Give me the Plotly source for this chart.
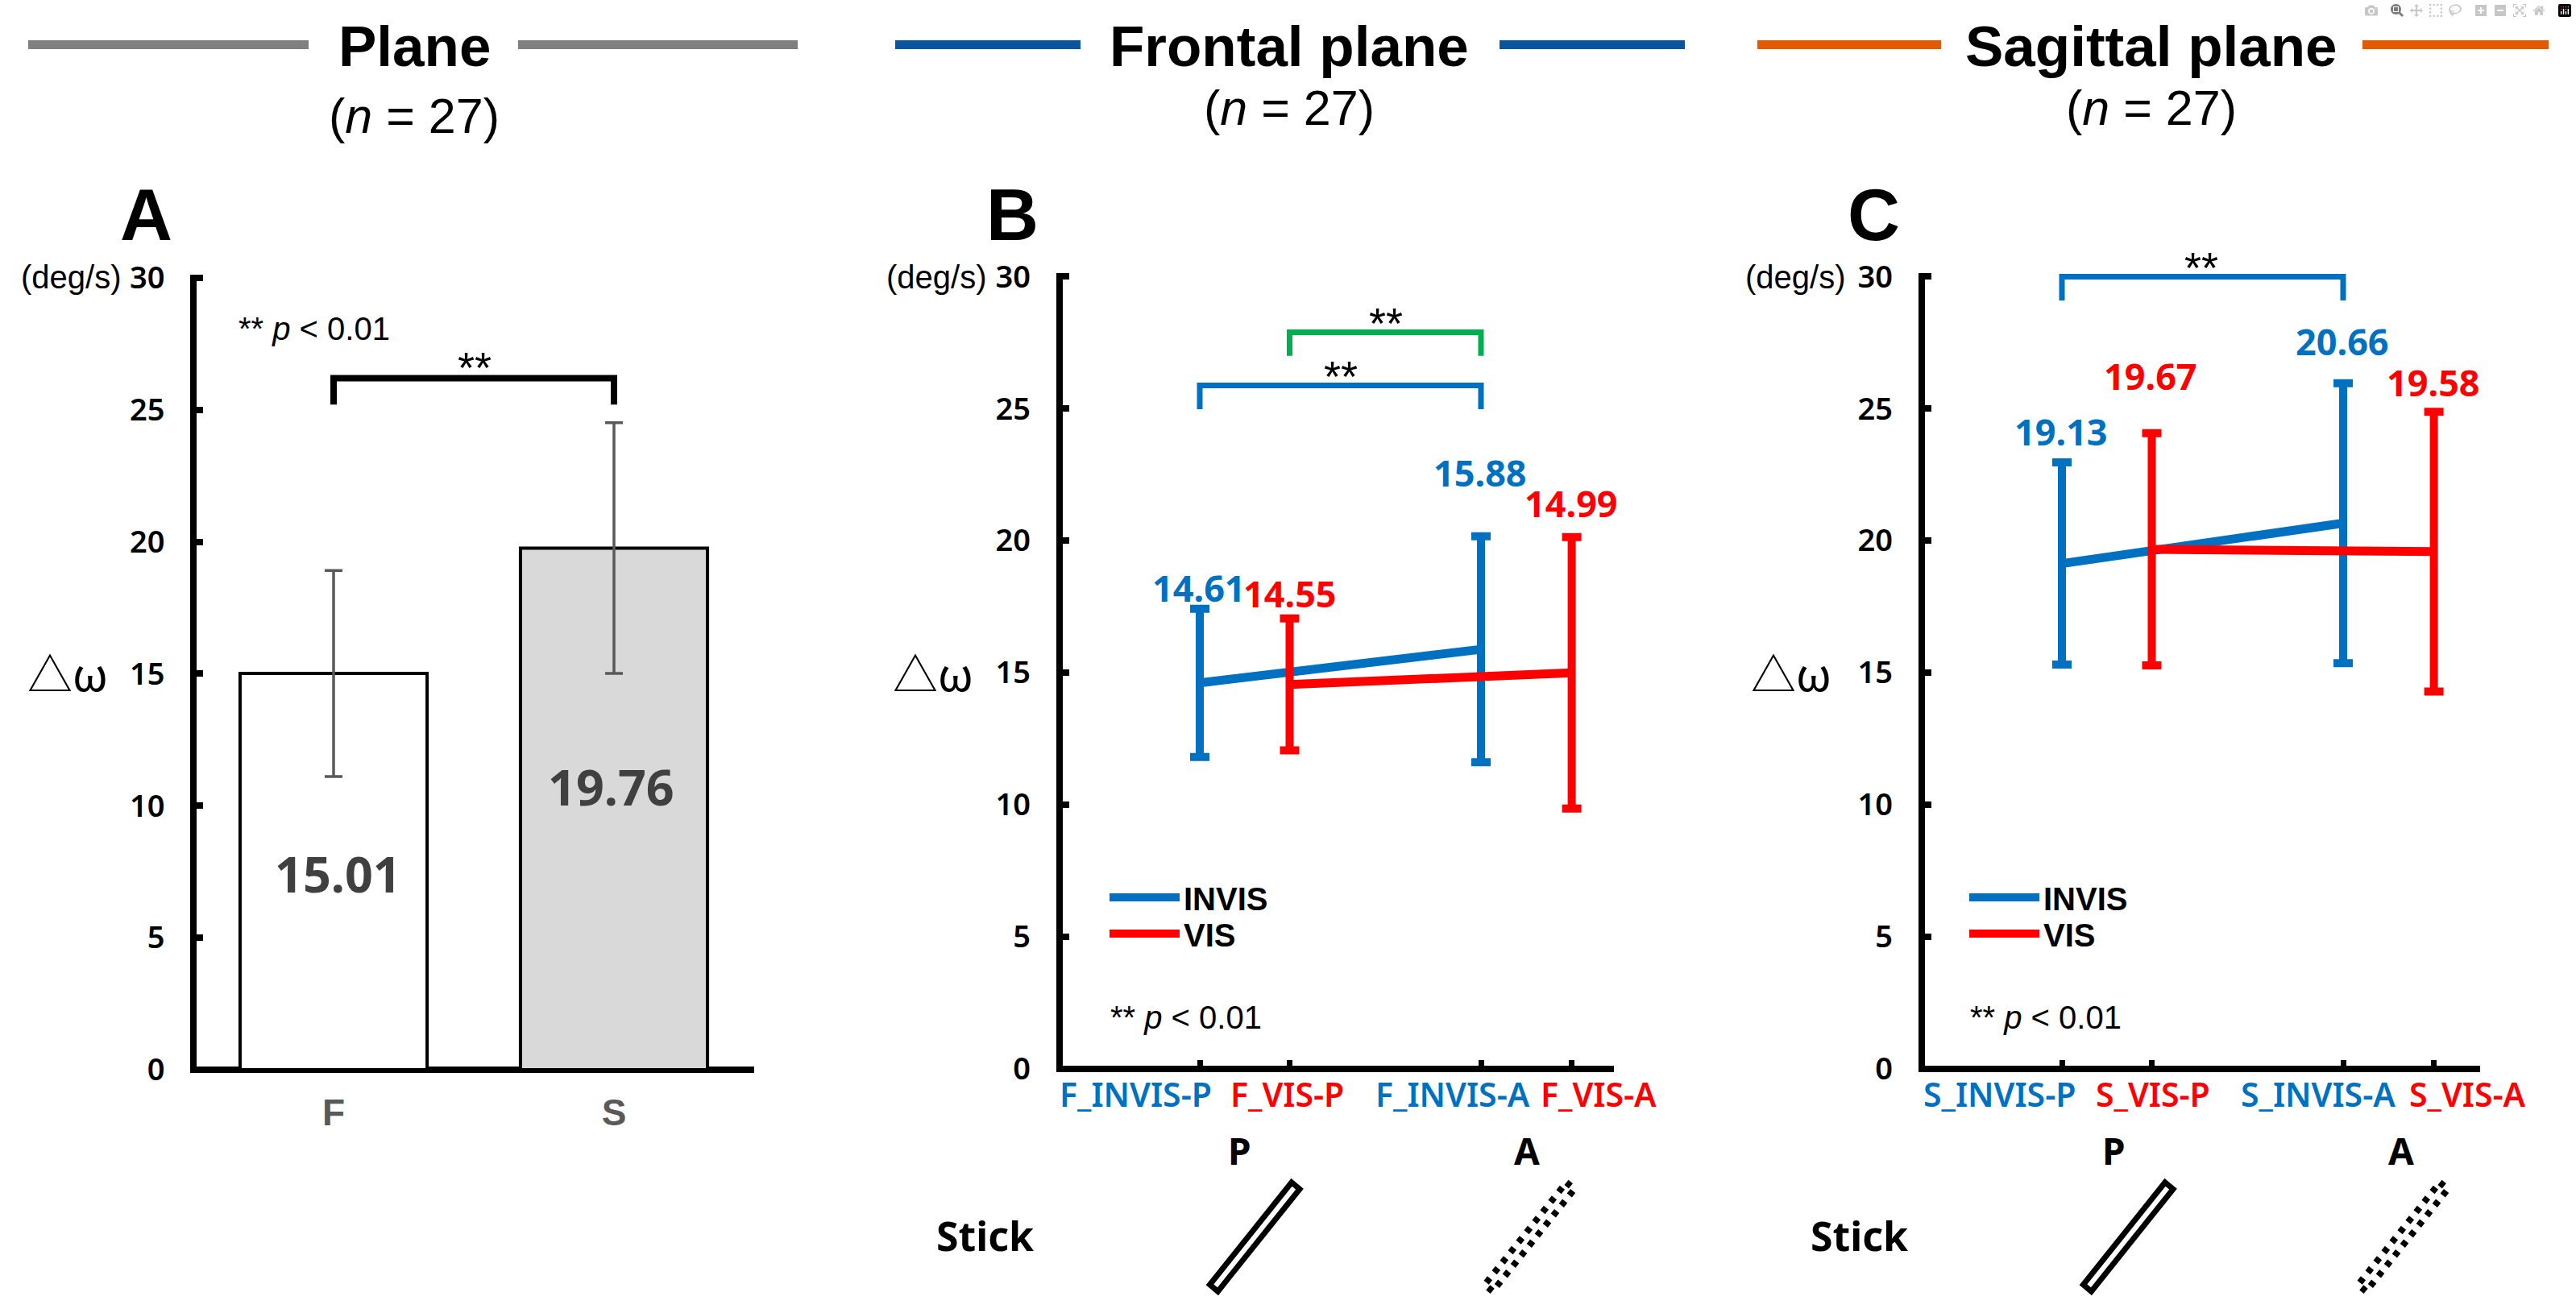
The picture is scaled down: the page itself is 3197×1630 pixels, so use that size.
import plotly.graph_objects as go

W, H = 3197, 1630
def px(x): return x / W
def py(y): return 1 - y / H

# ---- data ----
bar_cats = ["F", "S"]
bar_pos = [0, 1]
bar_vals = [15.01, 19.76]
bar_err = [3.9, 4.75]
y_ticks = [0, 5, 10, 15, 20, 25, 30]

b_labels = ["F_INVIS-P", "F_VIS-P", "F_INVIS-A", "F_VIS-A"]
b_invis_vals = [14.61, 15.88]
b_invis_err = [2.81, 4.28]
b_vis_vals = [14.55, 14.99]
b_vis_err = [2.5, 5.14]

c_labels = ["S_INVIS-P", "S_VIS-P", "S_INVIS-A", "S_VIS-A"]
c_invis_vals = [19.13, 20.66]
c_invis_err = [3.83, 5.3]
c_vis_vals = [19.67, 19.58]
c_vis_err = [4.4, 5.3]

invis_x = [0, 3.13]
vis_x = [1, 4.14]

BLUE, RED, GREEN = "#0070c0", "#ff0000", "#00b050"
AR = "Liberation Sans"
NO = "Noto Sans"

fig = go.Figure()

# ---- panel A ----
fig.add_trace(go.Bar(x=bar_pos, y=bar_vals, width=0.667,
    marker=dict(color=["#ffffff", "#d9d9d9"], line=dict(color="#000000", width=4)),
    error_y=dict(type="data", array=bar_err, color="#595959", thickness=3.5, width=11),
    xaxis="x", yaxis="y", showlegend=False, cliponaxis=False))

def bracket(xa, ya, x0, x1, y0, y1, col, w=7):
    fig.add_trace(go.Scatter(x=[x0, x0, x1, x1], y=[y0, y1, y1, y0], mode="lines",
        line=dict(color=col, width=w), xaxis=xa, yaxis=ya, showlegend=False, cliponaxis=False))

bracket("x", "y", 0, 1, 25.2, 26.2, "#000000", 8)

def panel(xa, ya, iv, ie, vv, ve, leg_i, leg_v):
    for xs, vals, err, col, name, leg in ((invis_x, iv, ie, BLUE, "INVIS", leg_i), (vis_x, vv, ve, RED, "VIS", leg_v)):
        fig.add_trace(go.Scatter(x=xs, y=vals, mode="lines", name=name,
            line=dict(color=col, width=11),
            error_y=dict(type="data", array=err, color=col, thickness=10, width=12),
            xaxis=xa, yaxis=ya, legend=leg, cliponaxis=False))

panel("x2", "y2", b_invis_vals, b_invis_err, b_vis_vals, b_vis_err, "legend", "legend2")
panel("x3", "y3", c_invis_vals, c_invis_err, c_vis_vals, c_vis_err, "legend3", "legend4")
bracket("x2", "y2", 0, 3.13, 24.98, 25.88, BLUE)
bracket("x2", "y2", 1, 3.13, 27.0, 27.89, GREEN)
bracket("x3", "y3", 0, 3.13, 29.1, 30.0, BLUE)

# ---- axes ----
UNIT = 32.77
def yax(anchor, y0):
    # plot area padded so the axis line overshoots the 0 and 30 ticks as in the source
    return dict(domain=[py(y0 + 4), py(y0 - 30 * UNIT - 4)], range=[-4 / UNIT, 30 + 4 / UNIT],
        tickvals=y_ticks, anchor=anchor,
        showline=True, linecolor="#000", linewidth=8, ticks="inside", ticklen=8, tickwidth=8,
        tickcolor="#000", tickfont=dict(family=NO, size=38, weight=600, color="#000"),
        ticklabelstandoff=24, showgrid=False, zeroline=True, zerolinecolor="#000", zerolinewidth=8)

def xax(anchor, left, right, r, **kw):
    return dict(domain=[px(left), px(right)], range=r, anchor=anchor, showline=False,
        showgrid=False, zeroline=False, **kw)

PT = 111.5
BX0, CX0 = 1489, 2559
BL, BR, CL, CR = 1318.5, 2003, 2388.5, 3077.6
b_range = [(BL - BX0) / PT, (BR - BX0) / PT]
c_range = [(CL - CX0) / PT, (CR - CX0) / PT]
tick_pos = invis_x[:1] + vis_x[:1] + invis_x[1:] + vis_x[1:]
tick_kw = dict(tickvals=tick_pos, ticks="inside", ticklen=15, tickwidth=7, tickcolor="#000", showticklabels=False)

def leg(x, y):
    return dict(x=px(x), y=py(y), xanchor="left", yanchor="middle", itemwidth=87, borderwidth=0,
                font=dict(family=AR, size=40, weight=700, color="#000"), bgcolor="rgba(0,0,0,0)")

layout = dict(width=W, height=H, margin=dict(l=0, r=0, t=0, b=0, pad=0, autoexpand=False),
    paper_bgcolor="#fff", plot_bgcolor="rgba(0,0,0,0)", barmode="overlay",
    xaxis=xax("y", 244, 936, [(244 - 414) / 348, (936 - 414) / 348], tickvals=bar_pos, ticktext=bar_cats, ticks="",
              tickfont=dict(family=AR, size=46, weight=700, color="#595959"), ticklabelstandoff=18),
    yaxis=yax("x", 1328),
    xaxis2=xax("y2", BL, BR, b_range, **tick_kw),
    yaxis2=yax("x2", 1326.5),
    xaxis3=xax("y3", CL, CR, c_range, **tick_kw),
    yaxis3=yax("x3", 1326.5),
    legend=leg(1372, 1114), legend2=leg(1372, 1159), legend3=leg(2439, 1114), legend4=leg(2439, 1159),
)

ann = []
def T(text, x, y, size, family=AR, weight=400, color="#000", xa="paper", ya="paper", anchor="center"):
    if xa == "paper": x = px(x)
    if ya == "paper": y = py(y)
    ann.append(dict(text=text, x=x, y=y, xref=xa, yref=ya, xanchor=anchor, yanchor="middle", showarrow=False,
        font=dict(family=family, size=size, color=color, weight=weight)))

# headers
T("Plane", 514, 57, 71, weight=700)
T("(<i>n</i> = 27)", 514, 144, 61)
T("Frontal plane", 1600, 57, 71, weight=700)
T("(<i>n</i> = 27)", 1600, 134, 61)
T("Sagittal plane", 2670, 57, 71, weight=700)
T("(<i>n</i> = 27)", 2670, 134, 61)
# panel letters
for s, x in (("A", 181), ("B", 1256), ("C", 2325)):
    T(s, x, 267, 90, weight=700)
# units / delta omega
for x in (88, 1162, 2228):
    T("(deg/s)", x, 344, 40)
for x in (84, 1158, 2223):
    T("△ω", x, 833, 56, family="Noto Sans CJK KR")
# panel A notes and values
T("** <i>p</i> &lt; 0.01", 390, 408, 40)
T("**", 589, 456, 54)
T("15.01", 0.017, 7.44, 61, family=NO, weight=700, color="#404040", xa="x", ya="y")
T("19.76", 0.99, 10.73, 61, family=NO, weight=700, color="#404040", xa="x", ya="y")
# panel B
for v, x, y, col in zip([14.61, 14.55, 15.88, 14.99], [-0.01, 1, 3.12, 4.13], [18.22, 17.99, 22.57, 21.41], [BLUE, RED, BLUE, RED]):
    T(f"{v:.2f}", x, y, 45, family=NO, weight=700, color=col, xa="x2", ya="y2")
for lab, x, col in zip(b_labels, [-0.71, 0.97, 2.82, 4.44], [BLUE, RED, BLUE, RED]):
    T(lab, x, 1358, 41, family=NO, weight=600, color=col, xa="x2")
T("**", 1720, 401, 54)
T("**", 1664, 467, 54)
T("** <i>p</i> &lt; 0.01", 1472, 1263, 40)
# panel C
for v, x, y, col in zip([19.13, 19.67, 20.66, 19.58], [-0.01, 0.99, 3.12, 4.13], [24.13, 26.23, 27.55, 26.0], [BLUE, RED, BLUE, RED]):
    T(f"{v:.2f}", x, y, 45, family=NO, weight=700, color=col, xa="x3", ya="y3")
for lab, x, col in zip(c_labels, [-0.69, 1.01, 2.85, 4.52], [BLUE, RED, BLUE, RED]):
    T(lab, x, 1358, 41, family=NO, weight=600, color=col, xa="x3")
T("**", 2732, 332, 54)
T("** <i>p</i> &lt; 0.01", 2539, 1263, 40)
# stick labels
for s, x in (("P", 1538), ("A", 1895), ("P", 2623), ("A", 2980)):
    T(s, x, 1428, 46, family=NO, weight=700)
for x in (1222, 2307):
    T("Stick", x, 1534, 50, family=NO, weight=700)
layout["annotations"] = ann

# shapes (decoration)
shapes = []
def hline(x0, x1, y, col):
    shapes.append(dict(type="line", xref="paper", yref="paper", x0=px(x0), x1=px(x1), y0=py(y), y1=py(y),
        line=dict(color=col, width=11)))
for a, b, c in ((35, 383, "#808080"), (643, 990, "#808080"), (1111, 1341, "#0b559f"), (1861, 2091, "#0b559f"),
                (2181, 2409, "#e35b00"), (2932, 3163, "#e35b00")):
    hline(a, b, 55.5, c)

def stick(dx, dash):
    tx, ty, bx, by = 1608 + dx, 1472, 1506.5 + dx, 1599
    nx, ny = 0.768, 0.641
    hw = 6.5
    pts = [(tx - nx * hw, ty - ny * hw), (tx + nx * hw, ty + ny * hw),
           (bx + nx * hw, by + ny * hw), (bx - nx * hw, by - ny * hw)]
    d = "M " + " L ".join(f"{px(x)} {py(y)}" for x, y in pts) + " Z"
    shapes.append(dict(type="path", path=d, xref="paper", yref="paper",
        line=dict(color="#000", width=8 if dash else 7, dash="7px,9px" if dash else "solid"), fillcolor="#fff"))
stick(0, False); stick(341, True); stick(1084, False); stick(1425, True)
layout["shapes"] = shapes

fig.update_layout(**layout)
fig.write_html("out.html", post_script="document.body.style.margin='0';")
